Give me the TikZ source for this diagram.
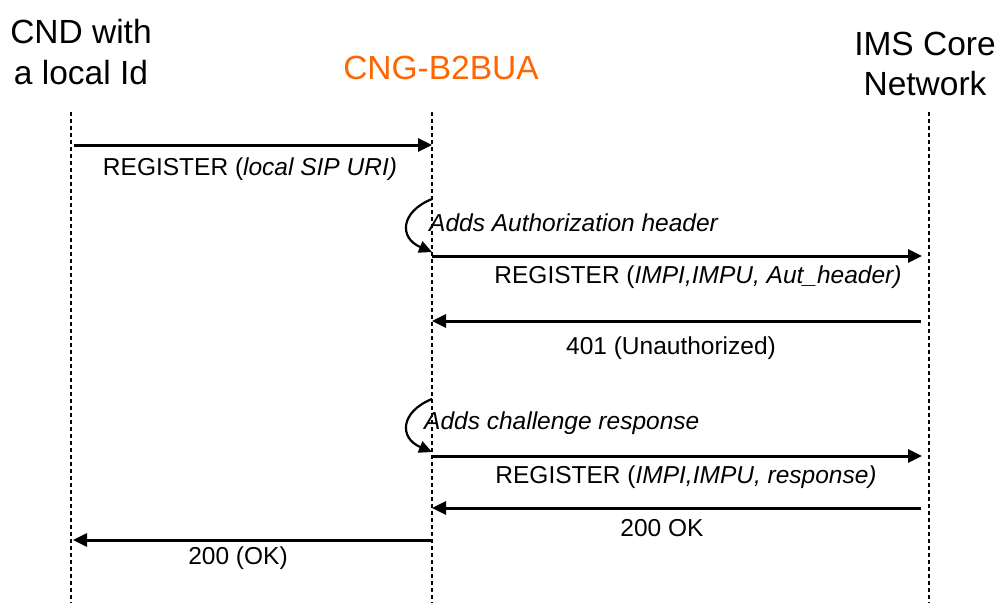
\documentclass[tikz,border=0pt]{standalone}
\usepackage{fontspec}
\setmainfont{Liberation Sans}
\usetikzlibrary{arrows.meta}
\definecolor{cngorange}{RGB}{255,102,0}
\tikzset{
  lifeline/.style={line width=1.3pt, dash pattern=on 4pt off 3pt},
  msg/.style={line width=3pt, -{Triangle[length=14pt,width=13pt]}},
  selfmsg/.style={line width=2.2pt, -{Triangle[length=13pt,width=12pt]}},
  head/.style={font=\fontsize{33.5}{40.5}\selectfont, align=center, inner sep=0pt},
  lbl/.style={font=\fontsize{24.5}{29}\selectfont, inner sep=0pt, anchor=center},
  note/.style={font=\fontsize{24.5}{29}\selectfont\itshape, inner sep=0pt, anchor=west},
}
\begin{document}
\begin{tikzpicture}[x=1pt,y=-1pt]
\useasboundingbox (0,0) rectangle (999,603);

% participants
\node[head] (cnd) at (81,52) {CND with\\a local Id};
\node[head, text=cngorange] (cng) at (441,68) {CNG-B2BUA};
\node[head] (ims) at (925,64) {IMS Core\\Network};

% lifelines
\coordinate (cndT) at (71,112);  \coordinate (cndB) at (71,603);
\coordinate (cngT) at (432,112); \coordinate (cngB) at (432,603);
\coordinate (imsT) at (929,112); \coordinate (imsB) at (929,603);
\draw[lifeline] (cndT) -- (cndB);
\draw[lifeline] (cngT) -- (cngB);
\draw[lifeline] (imsT) -- (imsB);

% message end points
\coordinate (m1a) at (74,145);  \coordinate (m1b) at (432,145);
\coordinate (s1a) at (432,199); \coordinate (s1b) at (432,252);
\coordinate (m3a) at (432,256); \coordinate (m3b) at (922,256);
\coordinate (m4a) at (921,321); \coordinate (m4b) at (432,321);
\coordinate (s2a) at (432,399); \coordinate (s2b) at (432,452);
\coordinate (m6a) at (432,456); \coordinate (m6b) at (922,456);
\coordinate (m7a) at (921,508); \coordinate (m7b) at (432,508);
\coordinate (m8a) at (432,540); \coordinate (m8b) at (73,540);

% messages
\draw[msg] (m1a) -- (m1b);
\node[lbl] (l1) at (250,169) {REGISTER (\textit{local SIP URI)}};

\draw[selfmsg] (s1a) .. controls (400,212) and (399,238) .. (s1b);
\node[note] (n1) at (429,223) {Adds Authorization header};

\draw[msg] (m3a) -- (m3b);
\node[lbl] (l3) at (698,277) {REGISTER (\textit{IMPI,IMPU, Aut\_header)}};

\draw[msg] (m4a) -- (m4b);
\node[lbl] (l4) at (671,348) {401 (Unauthorized)};

\draw[selfmsg] (s2a) .. controls (400,412) and (399,438) .. (s2b);
\node[note] (n2) at (424,423) {Adds challenge response};

\draw[msg] (m6a) -- (m6b);
\node[lbl] (l6) at (686,477) {REGISTER (\textit{IMPI,IMPU, response)}};

\draw[msg] (m7a) -- (m7b);
\node[lbl] (l7) at (662,528) {200 OK};

\draw[msg] (m8a) -- (m8b);
\node[lbl] (l8) at (238,558) {200 (OK)};
\end{tikzpicture}
\end{document}
